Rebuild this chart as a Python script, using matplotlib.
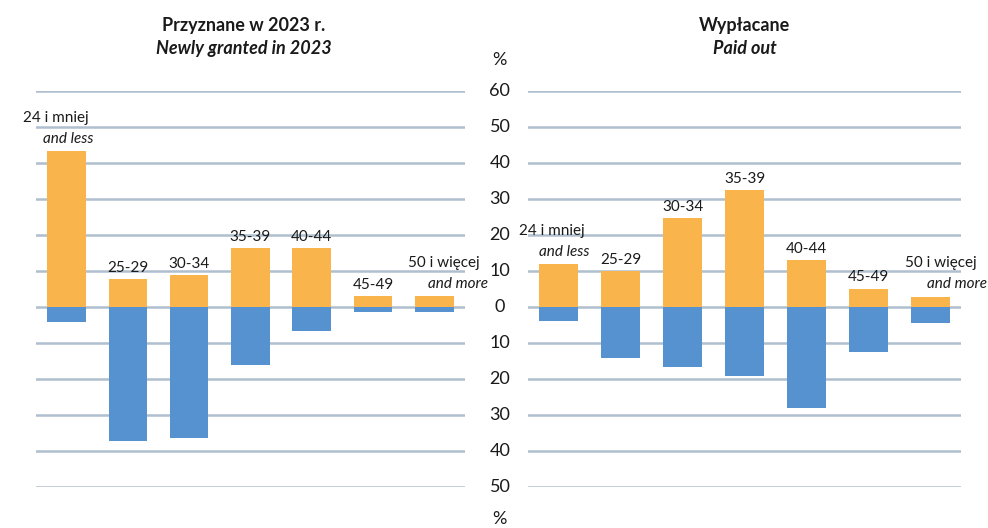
import matplotlib.pyplot as plt
import matplotlib.transforms as mtransforms

plt.rcParams['font.family'] = ['Lato', 'DejaVu Sans']

# dane
grupy = ["24 i mniej", "25-29", "30-34", "35-39", "40-44", "45-49", "50 i więcej"]
grupy_en = ["and less", "", "", "", "", "", "and more"]

przyznane_gora = [43.3, 7.7, 8.8, 16.3, 16.3, 3.0, 3.0]
przyznane_dol = [4.1, 37.2, 36.3, 16.1, 6.7, 1.4, 1.4]

wyplacane_gora = [11.9, 9.9, 24.8, 32.4, 13.1, 5.1, 2.9]
wyplacane_dol = [3.9, 14.2, 16.7, 19.2, 28.1, 12.5, 4.4]

ticks = [60, 50, 40, 30, 20, 10, 0, -10, -20, -30, -40, -50]

pomaranczowy = "#F9B44C"
niebieski = "#5592CF"
siatka = "#AFBFCE"

fig = plt.figure(figsize=(9.88, 5.28), dpi=100)
ax1 = fig.add_axes([0.0364, 0.0777, 0.4342, 0.75])
ax2 = fig.add_axes([0.5344, 0.0777, 0.4383, 0.75])

# przesunięcia podpisów dwuliniowych (w jednostkach kategorii)
offsets = {
    ax1: [(-0.17, 0.02), None, None, None, None, None, (0.15, 0.38)],
    ax2: [(-0.12, 0.08), None, None, None, None, None, (0.18, 0.43)],
}

for ax, gora, dol in [(ax1, przyznane_gora, przyznane_dol),
                      (ax2, wyplacane_gora, wyplacane_dol)]:
    x = range(len(grupy))
    ax.bar(x, gora, width=0.63, color=pomaranczowy, zorder=2)
    ax.bar(x, [-v for v in dol], width=0.63, color=niebieski, zorder=2)
    ax.set_ylim(-50, 60)
    ax.set_xlim(-0.5, len(grupy) - 0.5)
    for t in ticks:
        ax.axhline(t, color=siatka, lw=1.8, zorder=1)
    for s in ax.spines.values():
        s.set_visible(False)
    ax.set_xticks([])
    ax.set_yticks([])

    for i, (g, en) in enumerate(zip(grupy, grupy_en)):
        off = offsets[ax][i]
        if off is None:
            ax.annotate(g, (i, gora[i]), xytext=(0, 3), textcoords="offset points",
                        ha="center", va="bottom", fontsize=11, color="#1a1a1a")
        else:
            ax.annotate(en, (i + off[1], gora[i]), xytext=(0, 4), textcoords="offset points",
                        ha="center", va="bottom", fontsize=11, style="italic", color="#1a1a1a")
            ax.annotate(g, (i + off[0], gora[i]), xytext=(0, 19), textcoords="offset points",
                        ha="center", va="bottom", fontsize=11, color="#1a1a1a")

# etykiety osi Y pośrodku
trans = mtransforms.blended_transform_factory(fig.transFigure, ax1.transData)
for t in ticks:
    fig.text(0.506, t, str(abs(t)), transform=trans, ha="center", va="center",
             fontsize=13, color="#1a1a1a")
fig.text(0.506, 0.886, "%", ha="center", va="center", fontsize=13, color="#1a1a1a")
fig.text(0.506, 0.017, "%", ha="center", va="center", fontsize=13, color="#1a1a1a")

# tytuły
fig.text(0.247, 0.952, "Przyznane w 2023 r.", ha="center", va="center",
         fontsize=13, weight="bold", color="#1a1a1a")
fig.text(0.247, 0.909, "Newly granted in 2023", ha="center", va="center",
         fontsize=13, weight="bold", style="italic", color="#1a1a1a")
fig.text(0.754, 0.952, "Wypłacane", ha="center", va="center",
         fontsize=13, weight="bold", color="#1a1a1a")
fig.text(0.754, 0.909, "Paid out", ha="center", va="center",
         fontsize=13, weight="bold", style="italic", color="#1a1a1a")

fig.savefig("out.png", dpi=100)
